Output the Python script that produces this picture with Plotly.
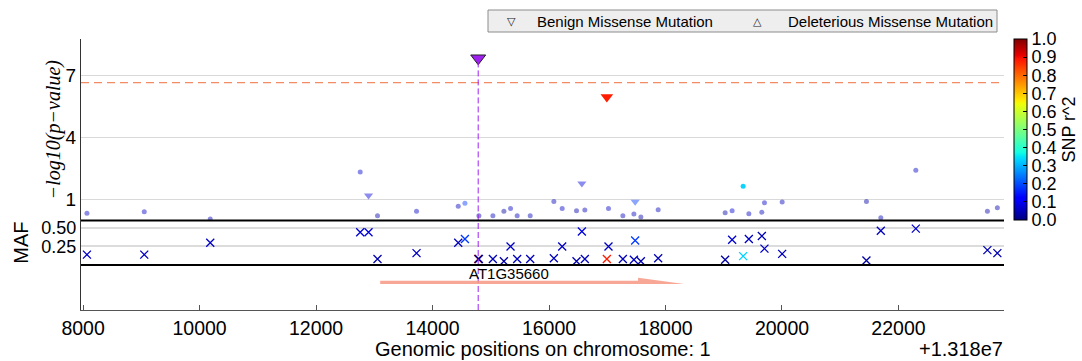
import plotly.graph_objects as go

# ---- data -------------------------------------------------------------
CHROM_OFFSET = 13180000

# SNP positions on chromosome 1 (bp)
positions = [13188066, 13189050, 13190183, 13192758, 13192901, 13193055, 13193725,
             13194441, 13194556, 13194784, 13194796, 13195036, 13195225, 13195339,
             13195453, 13195677, 13196083, 13196226, 13196472, 13196564, 13196615,
             13196993, 13197021, 13197268, 13197457, 13197479, 13197577, 13197874,
             13199024, 13199144, 13199333, 13199431, 13199654, 13199699, 13200003,
             13201450, 13201697, 13202298, 13203527, 13203698]

# -log10(p-value) of each SNP
neglog_p = [0.34, 0.42, 0.07, 2.34, 1.21, 0.23, 0.44, 0.68, 0.83, 7.84,
            0.23, 0.23, 0.44, 0.58, 0.23, 0.23, 0.92, 0.58, 0.47, 1.78,
            0.50, 5.97, 0.58, 0.23, 0.31, 0.90, 0.16, 0.52, 0.37, 0.47,
            1.65, 0.32, 0.40, 0.85, 0.89, 0.92, 0.13, 2.42, 0.44, 0.61]

# minor allele frequency
maf = [0.14, 0.14, 0.30, 0.44, 0.44, 0.08, 0.16, 0.30, 0.35, 0.08,
       0.08, 0.08, 0.05, 0.25, 0.08, 0.08, 0.09, 0.25, 0.05, 0.45,
       0.08, 0.08, 0.25, 0.08, 0.07, 0.33, 0.05, 0.09, 0.07, 0.34,
       0.12, 0.35, 0.39, 0.22, 0.15, 0.06, 0.46, 0.49, 0.20, 0.16]

# linkage (r^2) with the lead SNP
r2 = [0.06, 0.06, 0.06, 0.07, 0.08, 0.04, 0.06, 0.05, 0.18, 1.00,
      0.03, 0.05, 0.03, 0.06, 0.05, 0.05, 0.05, 0.06, 0.04, 0.08,
      0.05, 0.88, 0.06, 0.05, 0.05, 0.18, 0.04, 0.05, 0.03, 0.07,
      0.33, 0.06, 0.05, 0.06, 0.05, 0.03, 0.05, 0.06, 0.04, 0.04]

# variant class: lead SNP, benign missense, or other
kind = ["snp", "snp", "snp", "snp", "benign", "snp", "snp", "snp", "snp", "lead",
        "snp", "snp", "snp", "snp", "snp", "snp", "snp", "snp", "snp", "benign",
        "snp", "benign", "snp", "snp", "snp", "benign", "snp", "snp", "snp", "snp",
        "snp", "snp", "snp", "snp", "snp", "snp", "snp", "snp", "snp", "snp"]

SIG_THRESHOLD = 6.66

gene_name = ["AT1G35660"]
gene_start = [13193101]
gene_end = [13198319]

x_tick_labels = ["8000", "10000", "12000", "14000", "16000", "18000", "20000", "22000"]
x_range = [13187964, 13203812]

p_ticks = [1, 4, 7]
maf_ticks = [0.25, 0.50]
maf_tick_labels = ["0.25", "0.50"]

legend_labels = ["Benign Missense Mutation", "Deleterious Missense Mutation"]
legend_symbols = ["\u25BD", "\u25B3"]

# ---- styling helpers ---------------------------------------------------
FONT = "Liberation Sans, Arial, sans-serif"
W, H = 1082, 361
ML, MR, MT, MB = 81, 78, 39, 51
PW, PH = W - ML - MR, H - MT - MB


def px_x(px):
    """pixel column -> paper x"""
    return (px - ML) / PW


def px_y(py):
    """pixel row -> paper y"""
    return (H - MB - py) / PH


# matplotlib-style jet colour map
JET = [
    [0.0, "rgb(0,0,128)"], [0.11, "rgb(0,0,255)"], [0.125, "rgb(0,0,255)"],
    [0.34, "rgb(0,219,255)"], [0.35, "rgb(0,229,246)"], [0.375, "rgb(20,255,226)"],
    [0.5, "rgb(124,255,124)"], [0.64, "rgb(238,255,8)"], [0.66, "rgb(255,236,0)"],
    [0.89, "rgb(255,19,0)"], [0.91, "rgb(232,0,0)"], [1.0, "rgb(128,0,0)"],
]


def pick(values, wanted):
    return [v for v, k in zip(values, kind) if k in wanted]


x_snp, p_snp, r_snp = pick(positions, ["snp"]), pick(neglog_p, ["snp"]), pick(r2, ["snp"])
x_ben, p_ben, r_ben = pick(positions, ["benign"]), pick(neglog_p, ["benign"]), pick(r2, ["benign"])
x_lead, p_lead = pick(positions, ["lead"]), pick(neglog_p, ["lead"])

TOP_DOM = [0.3306, 1.0]
MAF_DOM = [0.166, 0.3306]
GENE_DOM = [0.0, 0.166]

fig = go.Figure()

# association dots (weakly linked SNPs drawn faint)
fig.add_trace(go.Scatter(
    x=x_snp, y=p_snp, mode="markers", xaxis="x", yaxis="y", showlegend=False,
    marker=dict(
        symbol="circle", size=5, color=r_snp, colorscale=JET, cmin=0, cmax=1,
        opacity=[0.45 if v < 0.3 else 0.95 for v in r_snp],
        line=dict(width=0),
        showscale=True,
        colorbar=dict(
            x=px_x(1014), xanchor="left", xpad=0, y=1.0, yanchor="top", ypad=0,
            len=TOP_DOM[1] - TOP_DOM[0], lenmode="fraction", thickness=13,
            outlinecolor="black", outlinewidth=1,
            tickmode="linear", tick0=0, dtick=0.1, tickformat=".1f",
            ticks="inside", ticklen=4, tickcolor="black",
            tickfont=dict(family=FONT, size=18, color="black"),
            title=dict(text="SNP r^2", side="right",
                       font=dict(family=FONT, size=18, color="black")),
        ),
    ),
))

# benign missense variants
fig.add_trace(go.Scatter(
    x=x_ben, y=p_ben, mode="markers", xaxis="x", yaxis="y", showlegend=False,
    marker=dict(
        symbol="triangle-down", color=r_ben, colorscale=JET, cmin=0, cmax=1,
        size=[8 if v < 0.3 else 11 for v in r_ben],
        opacity=[0.45 if v < 0.3 else 1.0 for v in r_ben],
        line=dict(width=0),
    ),
))

# lead SNP
fig.add_trace(go.Scatter(
    x=x_lead, y=p_lead, mode="markers", xaxis="x", yaxis="y", showlegend=False,
    marker=dict(symbol="triangle-down", size=13, color="#a020f0",
                line=dict(width=1, color="#222222")),
))

# minor allele frequency crosses
fig.add_trace(go.Scatter(
    x=positions, y=maf, mode="markers", xaxis="x", yaxis="y2", showlegend=False,
    marker=dict(symbol="x-thin", size=8,
                line=dict(width=1.3, color=r2, colorscale=JET, cmin=0, cmax=1)),
))

shapes = []
# genome-wide significance threshold
shapes.append(dict(type="line", xref="x domain", yref="y", x0=0, x1=1,
                   y0=SIG_THRESHOLD, y1=SIG_THRESHOLD,
                   line=dict(color="rgba(240,120,70,0.85)", width=1.3, dash="8px,5px")))
# lead SNP marker line across all panels
lead_x = x_lead[0]
shapes.append(dict(type="line", xref="x", yref="y", x0=lead_x, x1=lead_x,
                   y0=0, y1=p_lead[0],
                   line=dict(color="#a020f0", width=1, dash="6px,3px")))
for ref in ["y2 domain", "y3 domain"]:
    shapes.append(dict(type="line", xref="x", yref=ref, x0=lead_x, x1=lead_x,
                       y0=0, y1=1, line=dict(color="#a020f0", width=1, dash="6px,3px")))
# MAF panel frame
for yy in [0, 1]:
    shapes.append(dict(type="line", xref="x domain", yref="y2 domain", x0=0, x1=1,
                       y0=yy, y1=yy, line=dict(color="black", width=2)))

# gene models as half-headed arrows
ROW, SHAFT, HEAD = 0.578, 0.073, 0.14
HEAD_LEN = 790
annotations = []
for name, gs, ge in zip(gene_name, gene_start, gene_end):
    hs = ge - HEAD_LEN
    path = (f"M {gs},{ROW} L {ge},{ROW} L {hs},{ROW + HEAD} "
            f"L {hs},{ROW + SHAFT} L {gs},{ROW + SHAFT} Z")
    shapes.append(dict(type="path", xref="x", yref="y3", path=path,
                       fillcolor="rgba(247,150,130,0.85)", line=dict(width=0)))
    annotations.append(dict(x=(gs + hs) / 2, y=0.82, xref="x", yref="y3",
                            text=name, showarrow=False,
                            font=dict(family=FONT, size=15, color="black")))

# legend box with marker glyphs
shapes.append(dict(type="rect", xref="paper", yref="paper",
                   x0=px_x(488), x1=px_x(997), y0=px_y(32), y1=px_y(10),
                   fillcolor="#eeeeee", line=dict(color="#8c8c8c", width=1)))
legend_sym_px = [511, 757]
legend_txt_px = [535, 786]
for sym, lab, sx, tx in zip(legend_symbols, legend_labels, legend_sym_px, legend_txt_px):
    annotations.append(dict(x=px_x(sx), y=px_y(21), xref="paper", yref="paper",
                            text=sym, showarrow=False, xanchor="center", yanchor="middle",
                            font=dict(family="DejaVu Sans, sans-serif", size=11, color="#222222")))
    annotations.append(dict(x=px_x(tx), y=px_y(21), xref="paper", yref="paper",
                            text=lab, showarrow=False, xanchor="left", yanchor="middle",
                            font=dict(family=FONT, size=15, color="black")))

# axis titles and offset label
annotations += [
    dict(x=px_x(53.5), y=sum(TOP_DOM) / 2, xref="paper", yref="paper",
         text="<i>−log10(p−value)</i>", textangle=-90, showarrow=False,
         xanchor="center", yanchor="middle",
         font=dict(family="Liberation Serif, Times New Roman, serif", size=20, color="black")),
    dict(x=px_x(21), y=sum(MAF_DOM) / 2, xref="paper", yref="paper",
         text="MAF", textangle=-90, showarrow=False,
         xanchor="center", yanchor="middle",
         font=dict(family=FONT, size=20, color="black")),
    dict(x=0.5, y=px_y(348.5), xref="paper", yref="paper",
         text="Genomic positions on chromosome: 1", showarrow=False,
         xanchor="center", yanchor="middle",
         font=dict(family=FONT, size=20, color="black")),
    dict(x=px_x(1005), y=px_y(348.5), xref="paper", yref="paper",
         text=f"+{CHROM_OFFSET / 1e7:.4g}e7", showarrow=False,
         xanchor="right", yanchor="middle",
         font=dict(family=FONT, size=20, color="black")),
]

fig.update_layout(
    width=W, height=H,
    margin=dict(l=ML, r=MR, t=MT, b=MB, autoexpand=False),
    paper_bgcolor="white", plot_bgcolor="white",
    font=dict(family=FONT, color="black"),
    showlegend=False,
    xaxis=dict(
        domain=[0, 1], anchor="y3", range=x_range,
        tickmode="array",
        tickvals=[CHROM_OFFSET + int(t) for t in x_tick_labels],
        ticktext=x_tick_labels,
        ticks="inside", ticklen=5, tickcolor="#555555", tickwidth=1,
        showline=True, linecolor="#555555", linewidth=1.3,
        showgrid=False, zeroline=False,
        tickfont=dict(family=FONT, size=19.5, color="black"),
    ),
    yaxis=dict(
        domain=TOP_DOM, anchor="x", range=[0, 8.77],
        tickmode="array", tickvals=p_ticks, ticktext=[str(t) for t in p_ticks],
        showgrid=True, gridcolor="#d9d9d9", gridwidth=1.2,
        showline=True, linecolor="#333333", linewidth=1.3,
        zeroline=False, ticks="",
        tickfont=dict(family=FONT, size=19, color="black"),
    ),
    yaxis2=dict(
        domain=MAF_DOM, anchor="x", range=[0, 0.6],
        tickmode="array", tickvals=maf_ticks, ticktext=maf_tick_labels,
        showgrid=True, gridcolor="#dcdcdc", gridwidth=1.5,
        showline=True, linecolor="#333333", linewidth=1.3,
        zeroline=False, ticks="",
        tickfont=dict(family=FONT, size=18, color="black"),
    ),
    yaxis3=dict(
        domain=GENE_DOM, anchor="x", range=[0, 1],
        showticklabels=False, showgrid=False, zeroline=False, ticks="",
        showline=True, linecolor="#333333", linewidth=1.3,
    ),
    shapes=shapes,
    annotations=annotations,
)

fig.write_html("out.html")
